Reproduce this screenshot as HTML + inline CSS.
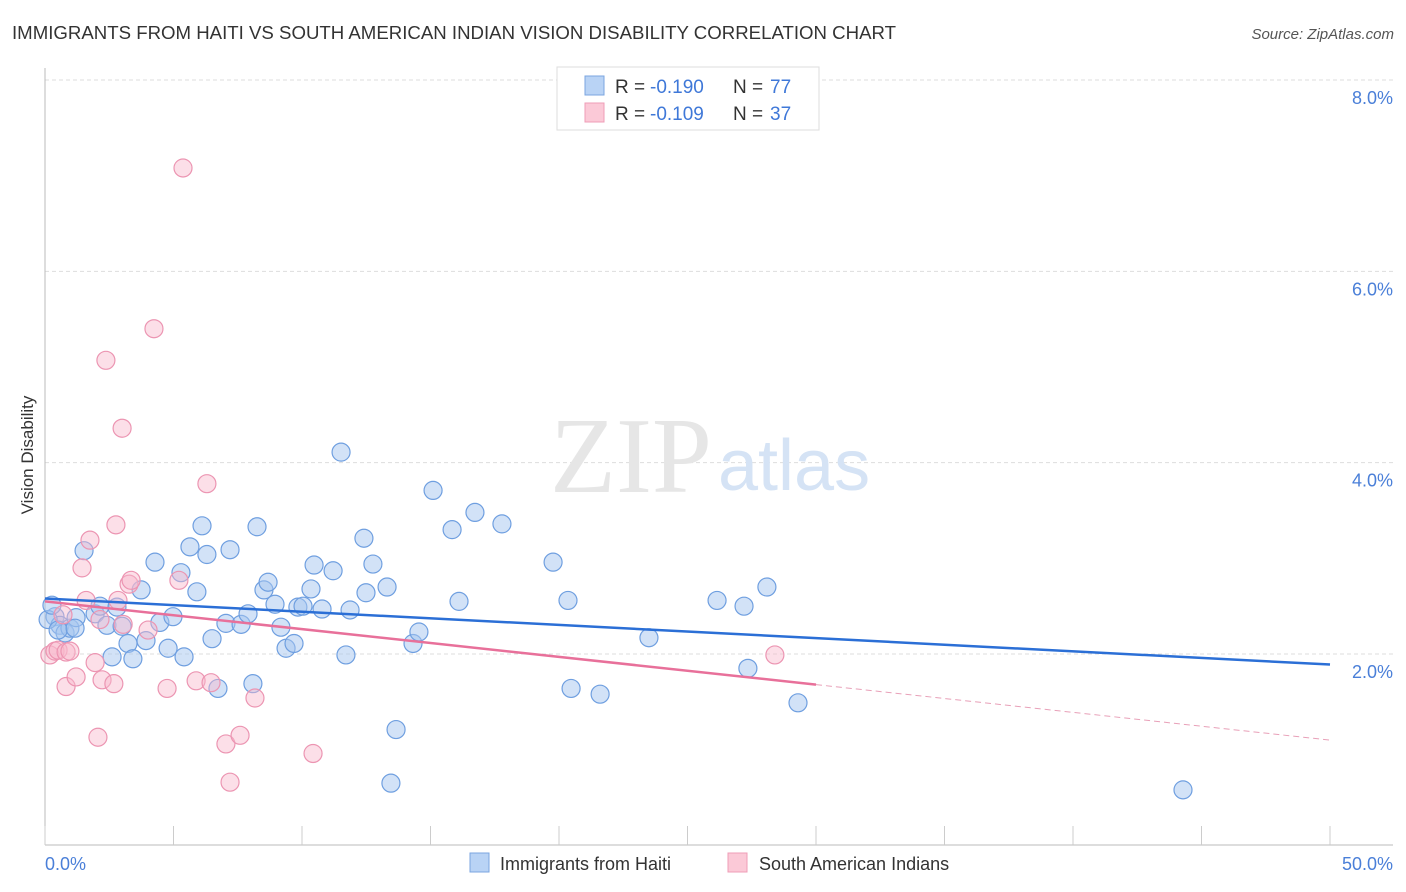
<!DOCTYPE html>
<html><head><meta charset="utf-8"><style>
body{margin:0;background:#fff;font-family:"Liberation Sans",sans-serif;}
svg{display:block}
</style></head><body>
<svg width="1406" height="892" font-family="Liberation Sans, sans-serif">
<text x="12" y="39" font-size="18" fill="#333" textLength="884" lengthAdjust="spacingAndGlyphs">IMMIGRANTS FROM HAITI VS SOUTH AMERICAN INDIAN VISION DISABILITY CORRELATION CHART</text>
<text x="1394" y="39" font-size="15" fill="#555" font-style="italic" text-anchor="end">Source: ZipAtlas.com</text>
<text x="33" y="455" font-size="17" fill="#333" text-anchor="middle" transform="rotate(-90 33 455)">Vision Disability</text>
<g id="grid"></g>
<text x="712" y="492" font-size="108" fill="#e6e6e6" text-anchor="end" font-family="Liberation Serif, serif">ZIP</text>
<text x="718" y="490" font-size="72" fill="#d5e3f5">atlas</text>
<g id="marks"></g>
<g>
<rect x="557" y="67" width="262" height="63" fill="#fff" stroke="#ddd"/>
<rect x="585" y="76" width="19" height="19" fill="#b9d3f5" stroke="#7ba6e0"/>
<rect x="585" y="103" width="19" height="19" fill="#fbc9d7" stroke="#ef9db7"/>
<g font-size="19">
<text x="615" y="93" fill="#333">R =</text><text x="650" y="93" fill="#3f78d8">-0.190</text>
<text x="733" y="93" fill="#333">N =</text><text x="770" y="93" fill="#3f78d8">77</text></g>
<g font-size="19">
<text x="615" y="120" fill="#333">R =</text><text x="650" y="120" fill="#3f78d8">-0.109</text>
<text x="733" y="120" fill="#333">N =</text><text x="770" y="120" fill="#3f78d8">37</text></g>
</g>
<g>
<rect x="470" y="853" width="19" height="19" fill="#b9d3f5" stroke="#7ba6e0"/>
<text x="500" y="870" font-size="18" fill="#333">Immigrants from Haiti</text>
<rect x="728" y="853" width="19" height="19" fill="#fbc9d7" stroke="#ef9db7"/>
<text x="759" y="870" font-size="18" fill="#333">South American Indians</text>
</g>
</svg>
<script>
const yTicks=[2,4,6,8];
const xTickLabels=["0.0%","50.0%"];
const blueX=[0.39,0.58,0.78,0.97,1.21,1.52,1.95,2.14,2.41,2.61,2.80,3.00,3.23,3.42,3.74,3.93,4.28,4.47,4.79,4.98,5.29,5.41,5.64,5.91,6.11,6.30,6.50,6.73,7.04,7.20,7.63,7.90,8.09,8.25,8.52,8.68,8.95,9.18,9.38,9.69,9.84,10.04,10.35,10.47,10.78,11.21,11.52,11.71,11.87,12.41,12.49,12.76,13.31,13.66,13.46,14.32,14.55,15.10,15.84,16.11,16.73,17.78,19.77,20.35,20.47,21.60,23.50,26.15,27.20,27.35,28.09,29.30,44.28,0.12,0.51,1.17,0.27];
const blueY=[2.39,2.30,2.22,2.27,2.38,3.08,2.42,2.50,2.30,1.97,2.49,2.29,2.11,1.95,2.67,2.14,2.96,2.33,2.06,2.39,2.85,1.97,3.12,2.65,3.34,3.04,2.16,1.64,2.32,3.09,2.31,2.42,1.69,3.33,2.67,2.75,2.52,2.28,2.06,2.11,2.49,2.50,2.68,2.93,2.47,2.87,4.11,1.99,2.46,3.21,2.64,2.94,2.70,1.21,0.65,2.11,2.23,3.71,3.30,2.55,3.48,3.36,2.96,2.56,1.64,1.58,2.17,2.56,2.50,1.85,2.70,1.49,0.58,2.36,2.25,2.27,2.51];
const pinkX=[0.19,0.39,0.51,0.82,0.97,0.82,1.21,1.44,1.60,1.75,1.95,2.06,2.22,2.37,2.68,2.76,2.84,3.00,3.04,3.27,3.35,4.01,4.24,4.75,5.21,5.37,5.88,6.30,6.46,7.04,7.20,7.59,8.17,10.43,28.40,0.70,2.14];
const pinkY=[1.99,2.03,2.04,2.02,2.03,1.66,1.76,2.90,2.56,3.19,1.91,1.13,1.73,5.07,1.69,3.35,2.56,4.36,2.31,2.73,2.77,2.25,5.40,1.64,2.77,7.08,1.72,3.78,1.70,1.06,0.66,1.15,1.54,0.96,1.99,2.41,2.36];
const blueTrend=[2.58,1.89];
const pinkTrend=[2.55,1.10];
const pinkSolidEnd=30;
const NS="http://www.w3.org/2000/svg";
const X=v=>45+v*1285/50;
const Y=v=>654-(v-2)*95.67;
function mk(t,a,p){const e=document.createElementNS(NS,t);for(const k in a)e.setAttribute(k,a[k]);p.appendChild(e);return e;}
const svg=document.querySelector('svg'),grid=document.getElementById('grid'),marks=document.getElementById('marks');
yTicks.forEach(t=>{
 const l=mk('line',{x1:45,x2:1393,y1:Y(t),y2:Y(t),stroke:'#ddd','stroke-dasharray':'4,3'},grid);
 
 
 const tx=mk('text',{x:1393,y:Y(t)+24,'font-size':18,fill:'#4a7fd8','text-anchor':'end'},svg);
 tx.textContent=t.toFixed(1)+'%';
 
 
});
mk('line',{x1:45,x2:45,y1:68,y2:845,stroke:'#bbb'},grid);
mk('line',{x1:45,x2:1393,y1:845,y2:845,stroke:'#bbb'},grid);
for(let i=0;i<=10;i++){const t=mk('line',{x1:X(i*5),x2:X(i*5),y1:826,y2:845,stroke:'#ccc'},grid);
 
 }
xTickLabels.forEach((s,i)=>{const t=mk('text',{x:i?1393:45,y:870,'font-size':18,fill:'#4a7fd8','text-anchor':i?'end':'start'},svg);t.textContent=s;
 
 });
blueX.forEach((x,i)=>{const c=mk('circle',{cx:X(x),cy:Y(blueY[i]),r:9,fill:'rgba(165,198,240,0.5)',stroke:'#6f9fe0','stroke-width':1.2},marks);
 
 });
pinkX.forEach((x,i)=>{const c=mk('circle',{cx:X(x),cy:Y(pinkY[i]),r:9,fill:'rgba(248,185,205,0.45)',stroke:'#ec95b2','stroke-width':1.2},marks);
 
 });
const bl=mk('line',{x1:X(0),y1:Y(blueTrend[0]),x2:X(50),y2:Y(blueTrend[1]),stroke:'#2b6fd6','stroke-width':2.5},marks);


const pm=pinkTrend[0]+(pinkTrend[1]-pinkTrend[0])*pinkSolidEnd/50;
const pl=mk('line',{x1:X(0),y1:Y(pinkTrend[0]),x2:X(pinkSolidEnd),y2:Y(pm),stroke:'#e8709a','stroke-width':2.5},marks);


const pd=mk('line',{x1:X(pinkSolidEnd),y1:Y(pm),x2:X(50),y2:Y(pinkTrend[1]),stroke:'#e8a0b8','stroke-width':1,'stroke-dasharray':'6,4'},marks);


</script>
</body></html>
